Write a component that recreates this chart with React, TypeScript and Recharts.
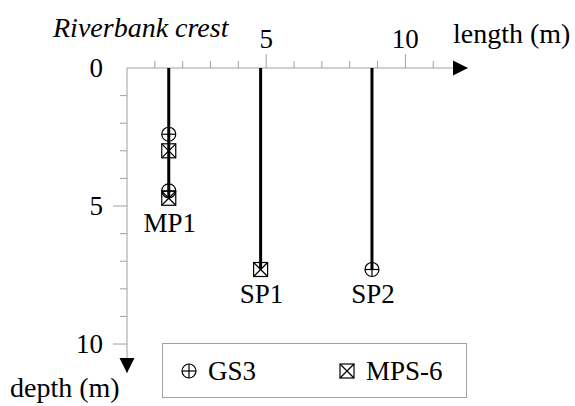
import { Legend, Scatter, ScatterChart, XAxis, YAxis } from "recharts";

const FONT = "Liberation Serif, Tinos, Times New Roman, DejaVu Serif, serif";
const GREY = "#a0a0a0";

// boreholes: position along the bank and bottom depth (m)
const boreholeNames = ["MP1", "SP1", "SP2"];
const boreholeLength = [1.5, 4.8, 8.8];
const boreholeDepth = [4.7, 7.3, 7.3];

// sensors
const gs3Length = [1.5, 1.5, 8.8];
const gs3Depth = [2.4, 4.45, 7.3];
const mps6Length = [1.5, 1.5, 4.8];
const mps6Depth = [3.0, 4.72, 7.3];

const lengthTicks = [1, 2, 3, 4, 5, 6, 7, 8, 9, 10, 11];
const depthTicks = [0, 1, 2, 3, 4, 5, 6, 7, 8, 9, 10];
const labelledTicks = [0, 5, 10];
const lengthMax = 12.25;
const depthMax = 11.05;

const gs3Data = gs3Length.map((x, i) => ({ x, y: gs3Depth[i] }));
const mps6Data = mps6Length.map((x, i) => ({ x, y: mps6Depth[i] }));
const bottoms = boreholeNames.map((name, i) => ({ name, x: boreholeLength[i], y: boreholeDepth[i] }));

const CirclePlus = ({ cx, cy }: any) => (
  <g stroke="#000" strokeWidth={1.2} fill="none">
    <circle cx={cx} cy={cy} r={7} />
    <line x1={cx - 7} x2={cx + 7} y1={cy} y2={cy} />
    <line x1={cx} x2={cx} y1={cy - 7} y2={cy + 7} />
  </g>
);

const SquareX = ({ cx, cy }: any) => (
  <g stroke="#000" strokeWidth={1.2} fill="none">
    <rect x={cx - 7} y={cy - 7} width={14} height={14} />
    <line x1={cx - 7} y1={cy - 7} x2={cx + 7} y2={cy + 7} />
    <line x1={cx + 7} y1={cy - 7} x2={cx - 7} y2={cy + 7} />
  </g>
);

const XTick = (props: any) => {
  const { x, y, payload } = props;
  const major = labelledTicks.includes(payload.value);
  return (
    <g>
      <line x1={x} x2={x} y1={y} y2={y - (major ? 14 : 7)} stroke={GREY} />
      {major && (
        <text x={x} y={y - 20} textAnchor="middle" fontSize={27} fontFamily={FONT} fill="#000">
          {payload.value}
        </text>
      )}
    </g>
  );
};

const YTick = (props: any) => {
  const { x, y, payload } = props;
  const major = labelledTicks.includes(payload.value);
  return (
    <g>
      {payload.value !== 0 && <line x1={x} x2={x - (major ? 14 : 7)} y1={y} y2={y} stroke={GREY} />}
      {major && (
        <text x={x - 24} y={y + 9} textAnchor="end" fontSize={27} fontFamily={FONT} fill="#000">
          {payload.value}
        </text>
      )}
    </g>
  );
};

const LegendBox = () => (
  <div style={{ width: 305, height: 55, border: `1px solid ${GREY}`, boxSizing: "border-box" }}>
    <svg width={303} height={53}>
      <CirclePlus cx={26} cy={27} />
      <text x={45} y={36} fontSize={27} fontFamily={FONT}>GS3</text>
      <SquareX cx={184} cy={27} />
      <text x={203} y={36} fontSize={27} fontFamily={FONT}>MPS-6</text>
    </svg>
  </div>
);

export default function App() {
  return (
    <div style={{ position: "absolute", left: 0, top: 0, width: 575, height: 406 }}>
      <ScatterChart width={575} height={406} margin={{ top: 28, right: 107, bottom: 33, left: 67 }}>
        <XAxis
          xAxisId={0}
          type="number"
          dataKey="x"
          orientation="top"
          height={40}
          domain={[0, lengthMax]}
          ticks={lengthTicks}
          tickSize={0}
          tickMargin={0}
          tick={<XTick />}
          axisLine={{ stroke: GREY }}
        />
        <YAxis
          yAxisId={0}
          type="number"
          dataKey="y"
          reversed
          width={60}
          domain={[0, depthMax]}
          ticks={depthTicks}
          tickSize={0}
          tickMargin={0}
          tick={<YTick />}
          axisLine={{ stroke: GREY }}
        />
        {bottoms.map((b) => (
          <Scatter
            key={b.name}
            data={[{ x: b.x, y: 0 }, { x: b.x, y: b.y }]}
            line={{ stroke: "#000", strokeWidth: 3 }}
            shape={() => <g />}
            legendType="none"
            isAnimationActive={false}
          />
        ))}
        <Scatter
          name="labels"
          data={bottoms}
          legendType="none"
          isAnimationActive={false}
          shape={(p: any) => (
            <text x={p.cx + 1} y={p.cy + 34} textAnchor="middle" fontSize={27} fontFamily={FONT}>
              {p.payload.name}
            </text>
          )}
        />
        <Scatter name="GS3" data={gs3Data} shape={<CirclePlus />} isAnimationActive={false} />
        <Scatter name="MPS-6" data={mps6Data} shape={<SquareX />} isAnimationActive={false} />
        <Scatter
          name="lengthArrow"
          data={[{ x: lengthMax, y: 0 }]}
          legendType="none"
          isAnimationActive={false}
          shape={(p: any) => (
            <path d={`M${p.cx},${p.cy} L${p.cx - 15},${p.cy - 7.5} L${p.cx - 15},${p.cy + 7.5} Z`} fill="#000" />
          )}
        />
        <Scatter
          name="depthArrow"
          data={[{ x: 0, y: depthMax }]}
          legendType="none"
          isAnimationActive={false}
          shape={(p: any) => (
            <path d={`M${p.cx},${p.cy} L${p.cx - 7.5},${p.cy - 15} L${p.cx + 7.5},${p.cy - 15} Z`} fill="#000" />
          )}
        />
        <Legend
          layout="vertical"
          align="center"
          verticalAlign="middle"
          content={<LegendBox />}
          wrapperStyle={{ left: 162, top: 343, width: 305, height: 55 }}
        />
      </ScatterChart>
      <svg width={575} height={406} style={{ position: "absolute", left: 0, top: 0, pointerEvents: "none" }}>
        <text x={53} y={37} fontSize={28} fontStyle="italic" fontFamily={FONT}>Riverbank crest</text>
        <text x={453} y={43} fontSize={28} fontFamily={FONT}>length (m)</text>
        <text x={10} y={397} fontSize={28} fontFamily={FONT}>depth (m)</text>
      </svg>
    </div>
  );
}
